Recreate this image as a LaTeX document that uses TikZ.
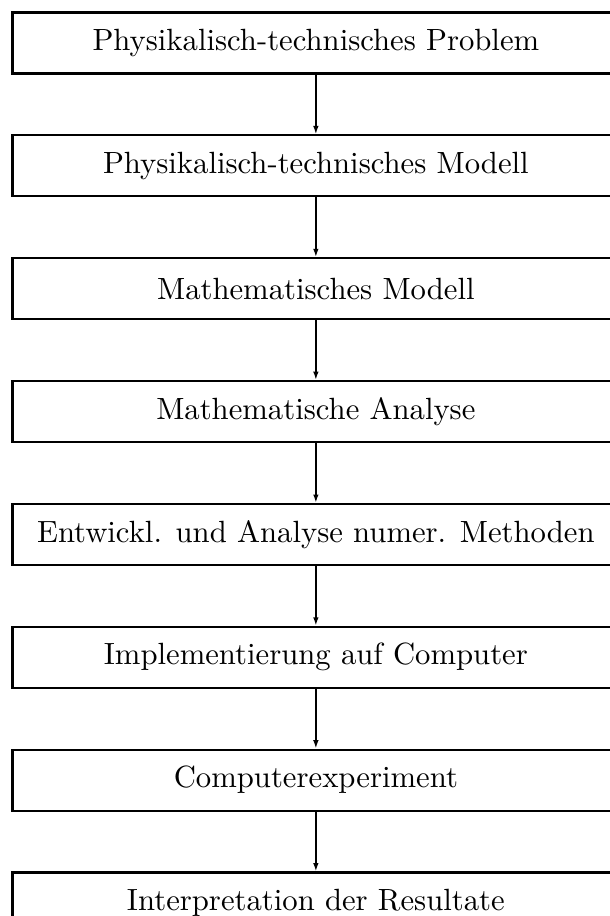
\documentclass[tikz,border=0pt]{standalone}
\usepackage{tikz}
\usetikzlibrary{arrows.meta,positioning}

\begin{document}
\begin{tikzpicture}[node distance=19.45pt, font=\normalsize,
    stepbox/.style={draw,line width=0.7pt,minimum width=197.7pt,minimum height=19.87pt,inner sep=0pt,align=center},
    flow/.style={-{Latex[length=2.7pt,width=1.8pt]},line width=0.5pt}]
\useasboundingbox (0,0) rectangle (198.7pt,-298.4pt);
\node[stepbox] (problem) at (102.9pt,-14pt) {Physikalisch-technisches Problem};
\node[stepbox,below=of problem] (physmod) {Physikalisch-technisches Modell};
\node[stepbox,below=of physmod] (mathmod) {Mathematisches Modell};
\node[stepbox,below=of mathmod] (analyse) {Mathematische Analyse};
\node[stepbox,below=of analyse] (numer) {Entwickl. und Analyse numer. Methoden};
\node[stepbox,below=of numer] (impl) {Implementierung auf Computer};
\node[stepbox,below=of impl] (experiment) {Computerexperiment};
\node[stepbox,below=of experiment] (interp) {Interpretation der Resultate};
\draw[flow] (problem)--(physmod); \draw[flow] (physmod)--(mathmod);
\draw[flow] (mathmod)--(analyse); \draw[flow] (analyse)--(numer);
\draw[flow] (numer)--(impl); \draw[flow] (impl)--(experiment);
\draw[flow] (experiment)--(interp);
\end{tikzpicture}
\end{document}
